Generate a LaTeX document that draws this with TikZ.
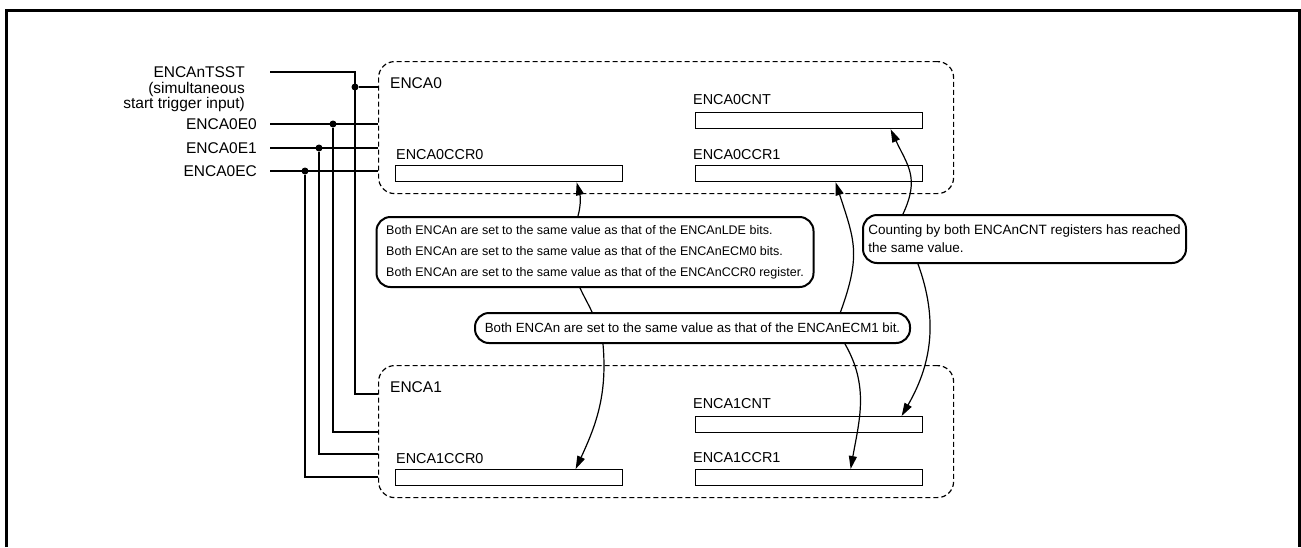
\documentclass[tikz,border=0pt]{standalone}
\usepackage{fontspec}
\setmainfont{Liberation Sans}
\usetikzlibrary{arrows.meta}
\begin{document}
\begin{tikzpicture}[x=1pt,y=-1pt,
  frame/.style={line width=3pt},
  wire/.style={line width=1.2pt},
  encabox/.style={draw, dash pattern=on 5pt off 3pt, line width=1.2pt, rounded corners=16pt,
    minimum width=575pt, minimum height=132pt, inner sep=0pt, anchor=north west},
  reg/.style={draw, line width=1.3pt, minimum width=227pt, minimum height=16pt, inner sep=0pt, anchor=north west},
  rlbl/.style={font=\fontsize{14.4}{16}\selectfont, inner sep=0pt, anchor=west},
  blbl/.style={font=\fontsize{15.5}{16}\selectfont, inner sep=0pt, anchor=west},
  inlbl/.style={font=\fontsize{15.5}{15.5}\selectfont, inner sep=0pt, anchor=base east},
  bubble/.style={draw, line width=2pt, rounded corners=14pt, inner sep=0pt, align=left},
  dot/.style={circle, fill, inner sep=0pt, minimum size=7pt},
  arr/.style={-{Triangle[length=13pt,width=8pt]}, line width=1.2pt},
  link/.style={line width=1.2pt}]
\useasboundingbox (0,0) rectangle (1301,547);

% outer frame (open at the bottom)
\draw[frame] (6,547) -- (6,10) -- (1299,10) -- (1299,547);

% ENCA0 and ENCA1 blocks
\node[encabox] (enca0) at (378,61) {};
\node[encabox] (enca1) at (378,365) {};

\node[blbl] (l0) at (390,83) {ENCA0};
\node[rlbl] (l0cnt) at (693,100) {ENCA0CNT};
\node[rlbl] (l0c0) at (396,155) {ENCA0CCR0};
\node[rlbl] (l0c1) at (693,155) {ENCA0CCR1};
\node[reg] (r0cnt) at (695,112) {};
\node[reg] (r0c0) at (395,165) {};
\node[reg] (r0c1) at (695,165) {};

\node[blbl] (l1) at (390,387) {ENCA1};
\node[rlbl] (l1cnt) at (693,404) {ENCA1CNT};
\node[rlbl] (l1c0) at (396,459) {ENCA1CCR0};
\node[rlbl] (l1c1) at (693,458) {ENCA1CCR1};
\node[reg] (r1cnt) at (695,416) {};
\node[reg] (r1c0) at (395,469) {};
\node[reg] (r1c1) at (695,469) {};

% input signal names
\node[inlbl] (tsst) at (245,77.5) {ENCAnTSST};
\node[inlbl] (tsst2) at (245,93) {(simultaneous};
\node[inlbl] (tsst3) at (245,108.5) {start trigger input)};
\node[inlbl] (e0) at (257,129.5) {ENCA0E0};
\node[inlbl] (e1) at (257,153.5) {ENCA0E1};
\node[inlbl] (ec) at (257,176.5) {ENCA0EC};

% wiring of the inputs to both blocks
\coordinate (wT) at (270,72);
\coordinate (jT) at (355,394);
\node[dot] (dT) at (355,87) {};
\draw[wire] (wT) -| (jT) -- (jT -| enca1.west);
\draw[wire] (dT) -- (dT -| enca0.west);

\coordinate (w0) at (270,124);
\coordinate (j0) at (333,432);
\node[dot] (d0) at (333,124) {};
\draw[wire] (w0) -- (w0 -| enca0.west);
\draw[wire] (d0) -- (j0) -- (j0 -| enca1.west);

\coordinate (w1) at (270,148);
\coordinate (j1) at (319,454);
\node[dot] (d1) at (319,148) {};
\draw[wire] (w1) -- (w1 -| enca0.west);
\draw[wire] (d1) -- (j1) -- (j1 -| enca1.west);

\coordinate (wc) at (270,171);
\coordinate (jc) at (305,477);
\node[dot] (dc) at (305,171) {};
\draw[wire] (wc) -- (wc -| enca0.west);
\draw[wire] (dc) -- (jc) -- (jc -| enca1.west);

% explanation bubbles
\node[bubble, minimum width=437pt, minimum height=70pt, font=\fontsize{12.5}{21}\selectfont] (b1) at (595,252)
  {Both ENCAn are set to the same value as that of the ENCAnLDE bits.\\
   Both ENCAn are set to the same value as that of the ENCAnECM0 bits.\\
   Both ENCAn are set to the same value as that of the ENCAnCCR0 register.};
\node[bubble, minimum width=435pt, minimum height=30pt, font=\fontsize{13.3}{16}\selectfont] (b2) at (692.5,328)
  {Both ENCAn are set to the same value as that of the ENCAnECM1 bit.};
\node[bubble, minimum width=323pt, minimum height=48pt, font=\fontsize{13.5}{18}\selectfont] (b3) at (1024.5,239)
  {Counting by both ENCAnCNT registers has reached\\the same value.};

% relations between bubbles and registers
\draw[arr] ([xshift=-17pt]b1.north) to[out=75,in=-75] ([xshift=67.5pt]r0c0.south);
\draw[link] ([xshift=-15pt]b1.south) to[out=-65,in=115] ([xshift=-100.5pt]b2.north);
\draw[arr] ([xshift=-89.5pt]b2.south) to[out=-85,in=65] ([xshift=66.5pt]r1c0.north);
\draw[arr] ([xshift=148pt]b2.north) to[out=70,in=-72,looseness=1.2] ([xshift=26.5pt]r0c1.south);
\draw[arr] ([xshift=152.5pt]b2.south) to[out=-60,in=80] ([xshift=41.5pt]r1c1.north);
\draw[arr] ([xshift=-121.5pt]b3.north) to[out=65,in=-65,looseness=1.2] ([xshift=81.5pt]r0cnt.south);
\draw[arr] ([xshift=-106.5pt]b3.south) to[out=-70,in=60] ([xshift=92.5pt]r1cnt.north);
\end{tikzpicture}
\end{document}
